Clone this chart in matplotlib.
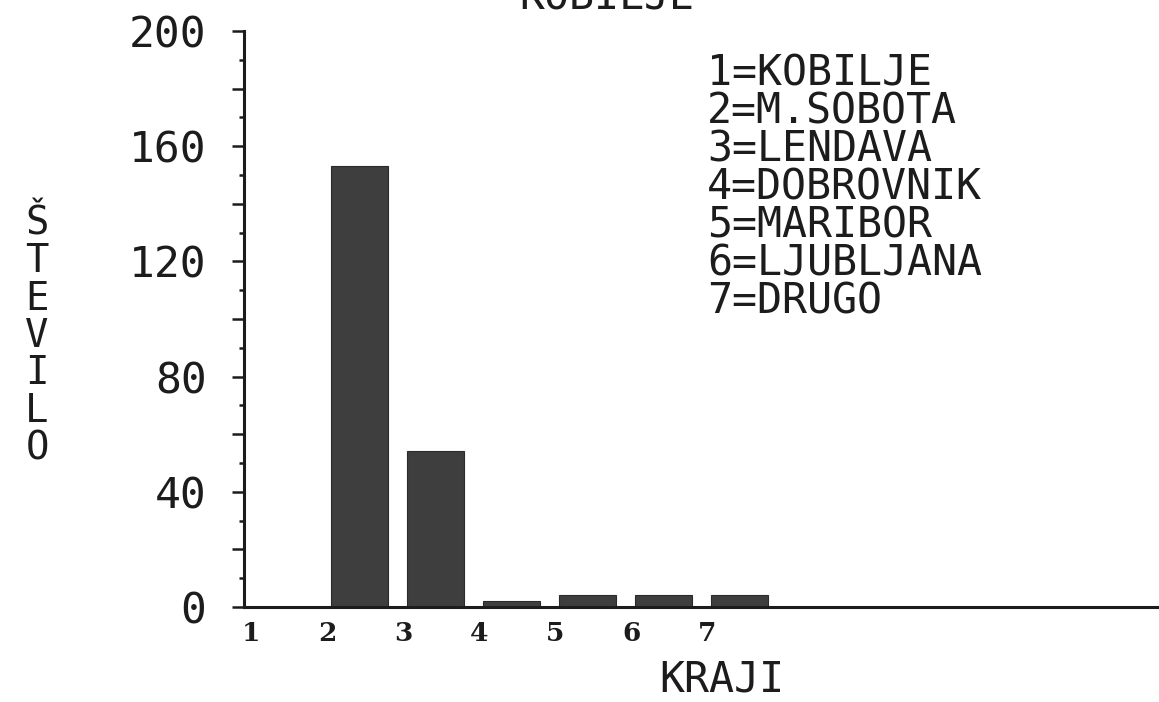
import matplotlib
matplotlib.use("Agg")
import matplotlib.pyplot as plt

# ---- data ----
categories = [1, 2, 3, 4, 5, 6, 7]
x_tick_labels = ["1", "2", "3", "4", "5", "6", "7"]
values = [0, 153, 54, 2, 4, 4, 4]
legend_lines = ["1=KOBILJE", "2=M.SOBOTA", "3=LENDAVA", "4=DOBROVNIK",
                "5=MARIBOR", "6=LJUBLJANA", "7=DRUGO"]
y_major_ticks = [0, 20, 40, 60, 80, 100, 120, 140, 160, 180, 200]
y_minor_ticks = [10, 30, 50, 70, 90, 110, 130, 150, 170, 190]
y_tick_labels = ["0", "", "40", "", "80", "", "120", "", "160", "", "200"]
title = "KOBILJE"
y_label = "ŠTEVILO"
x_label = "KRAJI"

# ---- style ----
W, H = 1159, 702
ink = "#1c1c1c"
mono = ["DejaVu Sans Mono"]
fig = plt.figure(figsize=(W / 100, H / 100), dpi=100, facecolor="white")

ax_left, ax_right = 244, 1159
ax_bottom, ax_top = 607, 31
ax = fig.add_axes([ax_left / W, (H - ax_bottom) / H,
                   (ax_right - ax_left) / W, (ax_bottom - ax_top) / H])
ax.set_facecolor("white")

ax.bar(categories, values, width=0.75, align="edge", color="#3e3e3e",
       edgecolor="#2a2a2a", linewidth=0.8, zorder=2)

ax.set_xlim(0.855, 0.855 + (ax_right - ax_left) / 76)
ax.set_ylim(0, 200)

for s in ["top", "right"]:
    ax.spines[s].set_visible(False)
for s in ["left", "bottom"]:
    ax.spines[s].set_linewidth(2.2)
    ax.spines[s].set_color(ink)
    ax.spines[s].set_zorder(3)

ax.set_yticks(y_major_ticks)
ax.set_yticklabels(y_tick_labels, fontfamily=mono, fontsize=31, color=ink)
ax.set_yticks(y_minor_ticks, minor=True)
ax.tick_params(axis="y", which="major", length=9, width=1.8, color=ink,
               direction="out", pad=18)
ax.tick_params(axis="y", which="minor", length=3.5, width=1.8, color=ink,
               direction="out")

ax.set_xticks([c - 0.05 for c in categories])
ax.set_xticklabels(x_tick_labels, fontfamily=["DejaVu Serif"],
                   fontweight="bold", fontsize=19, color=ink)
ax.tick_params(axis="x", which="both", length=0, pad=10)

# title (cut off at top of page, as in the reference)
fig.text(607 / W, 1 - 10 / H, title, ha="center", va="baseline",
         fontfamily=mono, fontsize=30, color=ink)

# legend text block
for i, line in enumerate(legend_lines):
    fig.text(707 / W, 1 - (53 + 38 * i) / H, line, ha="left", va="top",
             fontfamily=mono, fontsize=30, color=ink)

# stacked vertical y label
fig.text(37 / W, 1 - 336 / H, "\n".join(y_label), ha="center", va="center",
         fontfamily=mono, fontsize=28, color=ink, linespacing=0.98,
         multialignment="center")

# x label at the bottom edge
fig.text(722 / W, 2 / H, x_label, ha="center", va="bottom",
         fontfamily=mono, fontsize=30, color=ink)

fig.savefig("out.png", dpi=100, facecolor="white")
